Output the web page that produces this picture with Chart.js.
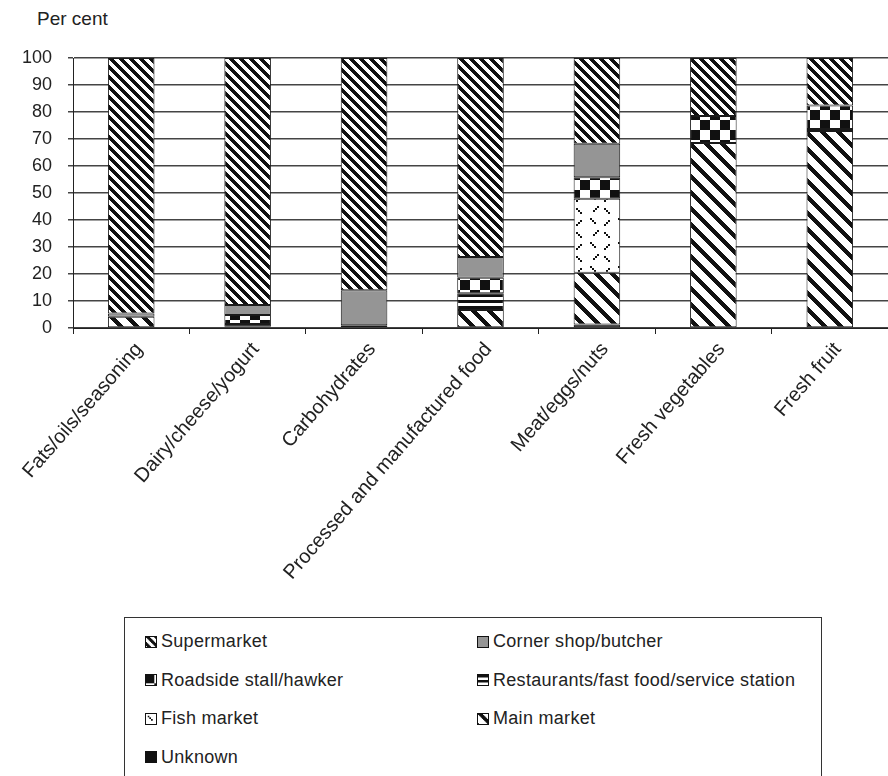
<!DOCTYPE html>
<html>
<head>
<meta charset="utf-8">
<script src="https://cdn.jsdelivr.net/npm/chart.js@4"></script>
<style>
  html, body { margin: 0; padding: 0; background: #fff; }
  body { width: 888px; height: 776px; overflow: hidden; position: relative;
         font-family: 'Liberation Sans', Arial, sans-serif; color: #222; }
  #unit { position: absolute; left: 37px; top: 8px; font-size: 19px; }
  #wrap { position: absolute; left: 0; top: 0; width: 888px; height: 600px; }
  #legend { position: absolute; left: 124px; top: 617px; width: 698px; height: 200px;
            border: 1px solid #333; box-sizing: border-box; }
  .item { position: absolute; display: flex; align-items: center; font-size: 18px;
          letter-spacing: 0.3px; white-space: nowrap; }
  .item canvas { width: 12px; height: 12px; margin-right: 4px; box-sizing: border-box; border: 1px solid #111; }
</style>
</head>
<body>
<div id="unit">Per cent</div>
<div id="wrap"><canvas id="c" width="888" height="600"></canvas></div>
<div id="legend"></div>
<script>
// Food groups along the x axis
const categories = [
  'Fats/oils/seasoning',
  'Dairy/cheese/yogurt',
  'Carbohydrates',
  'Processed and manufactured food',
  'Meat/eggs/nuts',
  'Fresh vegetables',
  'Fresh fruit'
];

// Share of purchases by outlet type (per cent), stacked bottom to top
const unknown      = [0,    0,    0,    0,    1.3,  0,    0];
const mainMarket   = [4.2,  0.5,  0,    6.7,  19.2, 68.5, 73.0];
const fishMarket   = [0,    0,    0,    0,    27.4, 0,    0];
const restaurants  = [0,    1.0,  1.0,  6.2,  0,    0,    0.7];
const roadside     = [0,    3.3,  0,    5.7,  7.9,  10.0, 8.7];
const cornerShop   = [1.2,  3.7,  13.0, 7.7,  12.4, 0,    0];
const supermarket  = [94.6, 91.5, 86.0, 73.7, 31.8, 21.5, 17.6];

const yTicks = [0, 10, 20, 30, 40, 50, 60, 70, 80, 90, 100];

const FONT = "'Liberation Sans', Arial, sans-serif";

// Monochrome fill patterns, painted pixel by pixel into small tiles
function tile(w, h, paint) {
  const c = document.createElement('canvas');
  c.width = w; c.height = h;
  const g = c.getContext('2d');
  g.fillStyle = '#fff';
  g.fillRect(0, 0, w, h);
  g.fillStyle = '#111';
  paint(g, w, h);
  return c;
}
const mod = (a, n) => ((a % n) + n) % n;

const tiles = {
  supermarket: tile(10, 10, (g, w, h) => {
    for (let y = 0; y < h; y++) for (let x = 0; x < w; x++)
      if (mod(x - y, 10) < 5) g.fillRect(x, y, 1, 1);
  }),
  main: tile(16, 16, (g, w, h) => {
    for (let y = 0; y < h; y++) for (let x = 0; x < w; x++)
      if (mod(x - y, 16) < 6) g.fillRect(x, y, 1, 1);
  }),
  roadside: tile(20, 20, (g) => {
    g.fillRect(0, 0, 10, 10);
    g.fillRect(10, 10, 10, 10);
  }),
  restaurants: tile(6, 6, (g) => {
    g.fillRect(0, 0, 6, 3);
  }),
  fish: tile(28, 24, (g) => {
    // short "\" and "/" dashes on a loose diagonal lattice
    const dash = (x, y, dir) => {
      for (let k = 0; k < 3; k++) g.fillRect(x + k * 2 * dir, y + k * 2, 2, 2);
    };
    dash(2, 2, 1);
    dash(20, 4, -1);
    dash(9, 14, -1);
    dash(16, 16, 1);
  })
};

const ctx = document.getElementById('c').getContext('2d');
const pat = (t) => ctx.createPattern(t, 'repeat');

const series = [
  { label: 'Unknown', data: unknown, fill: '#111', swatch: null },
  { label: 'Main market', data: mainMarket, fill: pat(tiles.main), swatch: tiles.main },
  { label: 'Fish market', data: fishMarket, fill: pat(tiles.fish), swatch: tiles.fish },
  { label: 'Restaurants/fast food/service station', data: restaurants, fill: pat(tiles.restaurants), swatch: tiles.restaurants },
  { label: 'Roadside stall/hawker', data: roadside, fill: pat(tiles.roadside), swatch: tiles.roadside },
  { label: 'Corner shop/butcher', data: cornerShop, fill: '#959595', swatch: null },
  { label: 'Supermarket', data: supermarket, fill: pat(tiles.supermarket), swatch: tiles.supermarket }
];

const PLOT_BOTTOM = 328;
const CANVAS_H = 600;

const chart = new Chart(ctx, {
  type: 'bar',
  data: {
    labels: categories,
    datasets: series.map(s => ({
      label: s.label,
      data: s.data.map(v => v > 0 ? v : null),
      backgroundColor: s.fill,
      borderColor: '#1a1a1a',
      borderWidth: 1,
      borderSkipped: false,
      barPercentage: 0.4,
      categoryPercentage: 1.0
    }))
  },
  options: {
    responsive: false,
    animation: false,
    devicePixelRatio: 1,
    layout: { padding: { top: 58, left: 0, right: 0, bottom: 0 } },
    plugins: { legend: { display: false }, tooltip: { enabled: false }, title: { display: false } },
    scales: {
      x: {
        stacked: true,
        grid: { display: true, drawOnChartArea: false, drawTicks: true, tickLength: 6, color: '#222', offset: true },
        border: { display: true, color: '#222', width: 1 },
        ticks: { autoSkip: false, maxRotation: 49, minRotation: 49, color: '#222', padding: 4,
                 labelOffset: 8, font: { family: FONT, size: 20 } },
        afterFit: (s) => { s.height = CANVAS_H - PLOT_BOTTOM; }
      },
      y: {
        stacked: true,
        min: 0,
        max: 100,
        afterBuildTicks: (s) => { s.ticks = yTicks.map(v => ({ value: v })); },
        grid: { color: '#444', lineWidth: 1.5, tickLength: 5, drawTicks: true },
        border: { display: true, color: '#222', width: 1 },
        ticks: { color: '#222', padding: 16, font: { family: FONT, size: 18 } },
        afterFit: (s) => { s.width = 73; }
      }
    }
  }
});

// Two-column legend, listed top of stack first
const legend = document.getElementById('legend');
const order = series.slice().reverse();
order.forEach((s, i) => {
  const col = i % 2, row = Math.floor(i / 2);
  const item = document.createElement('div');
  item.className = 'item';
  item.style.left = (col === 0 ? 20 : 352) + 'px';
  item.style.top = (13 + row * 38.5) + 'px';
  const sw = document.createElement('canvas');
  sw.width = 12; sw.height = 12;
  const g = sw.getContext('2d');
  if (s.swatch) {
    g.fillStyle = g.createPattern(s.swatch, 'repeat');
  } else {
    g.fillStyle = s.fill;
  }
  g.fillRect(0, 0, 12, 12);
  const txt = document.createElement('span');
  txt.textContent = s.label;
  item.appendChild(sw);
  item.appendChild(txt);
  legend.appendChild(item);
});
</script>
</body>
</html>
